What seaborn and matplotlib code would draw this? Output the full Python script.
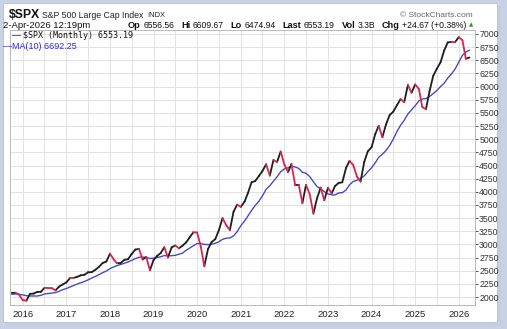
import numpy as np
import pandas as pd
import matplotlib
matplotlib.use("Agg")
import matplotlib.pyplot as plt
import matplotlib.dates as mdates
from matplotlib.patches import Rectangle
import seaborn as sns

# ---------------- data ----------------
start_month = "2015-01-01"       # first close (needed for the MA warm-up)
plot_start = "2015-10-01"        # first month shown
closes = [
    # 2015
    1995, 2104, 2068, 2086, 2107, 2063, 2104, 1972, 1920, 2079, 2080, 2044,
    # 2016
    1940, 1932, 2060, 2065, 2097, 2099, 2174, 2171, 2168, 2126, 2199, 2239,
    # 2017
    2279, 2364, 2363, 2384, 2412, 2423, 2470, 2472, 2519, 2575, 2648, 2674,
    # 2018
    2824, 2714, 2641, 2648, 2705, 2718, 2816, 2902, 2914, 2712, 2760, 2507,
    # 2019
    2704, 2784, 2834, 2946, 2752, 2942, 2980, 2926, 2977, 3038, 3141, 3231,
    # 2020
    3226, 2954, 2585, 2912, 3044, 3100, 3271, 3500, 3363, 3270, 3622, 3756,
    # 2021
    3714, 3811, 3973, 4181, 4204, 4298, 4395, 4523, 4308, 4605, 4567, 4766,
    # 2022
    4516, 4374, 4530, 4132, 4132, 3785, 4130, 3955, 3586, 3872, 4080, 3840,
    # 2023
    4077, 3970, 4109, 4169, 4180, 4450, 4589, 4508, 4288, 4194, 4568, 4770,
    # 2024
    4846, 5096, 5254, 5036, 5278, 5460, 5522, 5648, 5762, 5705, 6032, 5882,
    # 2025
    6041, 5955, 5612, 5569, 5912, 6205, 6339, 6460, 6688, 6840, 6849, 6846,
    # 2026
    6940, 6880, 6530, 6553.19,
]
ma_window = 10
y_ticks = list(range(2000, 7001, 250))
year_labels = list(range(2016, 2027))

title_main = "$SPX"
title_desc = "S&P 500 Large Cap Index"
title_exch = "INDX"
date_text = "2-Apr-2026 12:19pm"
quote_labels = ["Op", "Hi", "Lo", "Last", "Vol", "Chg"]
quote_values = ["6556.56", "6609.67", "6474.94", "6553.19", "3.3B",
                "+24.67 (+0.38%)"]
legend_close = "$SPX (Monthly) 6553.19"
legend_ma = "\u2014MA(10) 6692.25"
credit = "\u00a9 StockCharts.com"

# ---------------- frame ----------------
sns.set_style("white")
plt.rcParams["font.family"] = ["Liberation Sans", "DejaVu Sans"]

W, H = 507, 329
fig = plt.figure(figsize=(W / 100, H / 100), dpi=100)
fig.patch.set_facecolor("#c9d1e4")


def fx(px):
    return px / W


def fy(py):
    return 1 - py / H


# soft shadow to the right and bottom of the white panel
for k, col in enumerate(["#dfe4ef", "#d3d9e8", "#c6cee2"]):
    fig.patches.append(Rectangle((fx(3 + k), fy(324 + k)), 496 / W, 321 / H,
                                 transform=fig.transFigure, facecolor=col,
                                 edgecolor="none", zorder=-20))
fig.patches.append(Rectangle((fx(3), fy(322)), 494 / W, 319 / H,
                             transform=fig.transFigure, facecolor="white",
                             edgecolor="#b4bdd3", lw=0.6, zorder=-10))

ax = fig.add_axes([fx(10), fy(305), (475 - 10) / W, (305 - 30) / H])
ax.set_zorder(5)
ax.set_facecolor("white")

# ---------------- series ----------------
dates = pd.date_range(start_month, periods=len(closes), freq="MS")
df = pd.DataFrame({"date": dates, "close": closes})
df["ma"] = df["close"].rolling(ma_window).mean()
df = df[df["date"] >= pd.Timestamp(plot_start)].reset_index(drop=True)

rows = []
for i in range(1, len(df)):
    d = "down" if df.close[i] < df.close[i - 1] else "up"
    rows.append((df.date[i - 1], df.close[i - 1], i, d))
    rows.append((df.date[i], df.close[i], i, d))
seg = pd.DataFrame(rows, columns=["date", "close", "seg", "dir"])

sns.lineplot(data=df, x="date", y="ma", color="#4242bf", lw=0.95, ax=ax, zorder=3)
sns.lineplot(data=seg, x="date", y="close", hue="dir", units="seg",
             estimator=None, palette={"up": "#1e1e1e", "down": "#e02348"},
             lw=1.3, legend=False, ax=ax, zorder=4, solid_capstyle="round")

# ---------------- axes ----------------
ax.set_xlim(pd.Timestamp("2015-09-16"), pd.Timestamp("2026-05-17"))
ax.set_ylim(1848, 7076)
ax.yaxis.tick_right()
ax.set_yticks(y_ticks)
ax.set_yticklabels([str(v) for v in y_ticks])
ax.set_xticks([pd.Timestamp(f"{y}-01-01") for y in year_labels])
ax.set_xticklabels([str(y) for y in year_labels])
ax.xaxis.set_minor_locator(mdates.MonthLocator(bymonth=[7]))
ax.tick_params(axis="y", labelsize=6.3, colors="#333333", length=2, pad=1,
               width=0.6)
ax.tick_params(axis="x", which="major", labelsize=6.8, colors="#222222",
               length=2, pad=1.5, width=0.6)
ax.tick_params(axis="x", which="minor", length=0)
ax.set_xlabel("")
ax.set_ylabel("")
ax.grid(True, which="both", color="#e2e2e2", lw=0.7)
ax.set_axisbelow(True)
for s in ax.spines.values():
    s.set_color("#b9b9b9")
    s.set_linewidth(0.7)
    s.set_visible(True)

# ---------------- texts ----------------
fig.text(fx(9), fy(15), title_main, fontsize=8.8, fontweight="bold",
         va="center", ha="left", color="#111111")
fig.text(fx(41.5), fy(15.5), title_desc, fontsize=6.3, va="center", ha="left",
         color="#222222")
fig.text(fx(147), fy(15.5), title_exch, fontsize=5.4, va="center", ha="left",
         color="#222222")
fig.text(fx(400), fy(15.5), credit, fontsize=6.0, va="center", ha="left",
         color="#666666")
fig.text(fx(3), fy(25.5), date_text, fontsize=6.8, va="center", ha="left",
         color="#111111")

# quote line: laid out left to right, sized to span x=128..467
renderer = fig.canvas.get_renderer()
pieces = []
for lab, val in zip(quote_labels, quote_values):
    pieces.append((lab, True))
    pieces.append((val, False))


def measure(fs):
    ws = []
    for txt, bold in pieces:
        t = fig.text(0, 0, txt, fontsize=fs * (1.06 if bold else 1.0),
                     fontweight="bold" if bold else "normal")
        ws.append(t.get_window_extent(renderer).width)
        t.remove()
    return ws


base = 10.0
ws = measure(base)
gap_small = 0.30 * base * 1.389
gap_big = 0.75 * base * 1.389
total = sum(ws) + gap_small * 6 + gap_big * 5
fs = base * (467 - 128) / total
scale = fs / base
x = 128.0
for k, (txt, bold) in enumerate(pieces):
    fig.text(fx(x), fy(25.5), txt, fontsize=fs * (1.06 if bold else 1.0),
             fontweight="bold" if bold else "normal",
             va="center", ha="left", color="#111111")
    x += ws[k] * scale + (gap_small if k % 2 == 0 else gap_big) * scale
fig.text(fx(469), fy(25), "\u25b2", fontsize=4, va="center", ha="left",
         color="#2a9a2a", family=["DejaVu Sans"])

fig.text(fx(12), fy(36), "\u2014", fontsize=6.5, va="center", ha="left",
         color="#111111", zorder=10)
fig.text(fx(23), fy(36), legend_close, fontsize=6.0, va="center", ha="left",
         color="#111111", family=["DejaVu Sans Mono"], zorder=10)
fig.text(fx(3), fy(46.5), legend_ma, fontsize=6.5, va="center", ha="left",
         color="#2b2bd0", zorder=10)

fig.savefig("out.png", dpi=100, facecolor=fig.get_facecolor())
